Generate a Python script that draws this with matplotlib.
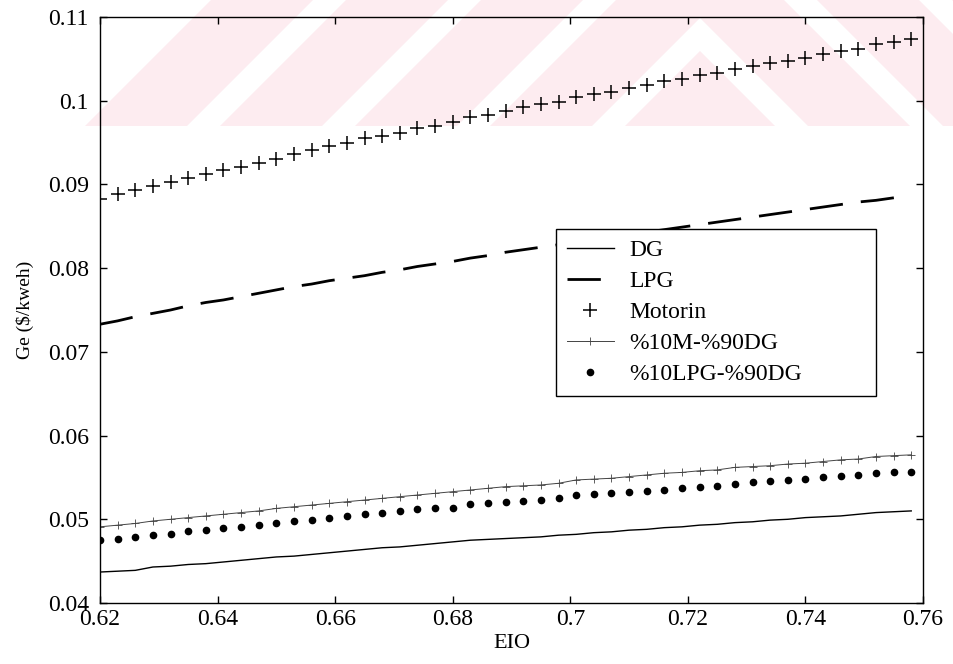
import numpy as np
import matplotlib
matplotlib.use('Agg')
import matplotlib.pyplot as plt
from matplotlib.patches import Polygon, Rectangle
from matplotlib.ticker import FormatStrFormatter

# EIO values: 0.62 .. 0.758 step 0.003 (47 points)
eio = [0.620, 0.623, 0.626, 0.629, 0.632, 0.635, 0.638, 0.641, 0.644, 0.647,
       0.650, 0.653, 0.656, 0.659, 0.662, 0.665, 0.668, 0.671, 0.674, 0.677,
       0.680, 0.683, 0.686, 0.689, 0.692, 0.695, 0.698, 0.701, 0.704, 0.707,
       0.710, 0.713, 0.716, 0.719, 0.722, 0.725, 0.728, 0.731, 0.734, 0.737,
       0.740, 0.743, 0.746, 0.749, 0.752, 0.755, 0.758]

dg = [0.0437, 0.0438, 0.0439, 0.0443, 0.0444, 0.0446, 0.0447, 0.0449, 0.0451, 0.0453,
      0.0455, 0.0456, 0.0458, 0.0460, 0.0462, 0.0464, 0.0466, 0.0467, 0.0469, 0.0471,
      0.0473, 0.0475, 0.0476, 0.0477, 0.0478, 0.0479, 0.0481, 0.0482, 0.0484, 0.0485,
      0.0487, 0.0488, 0.0490, 0.0491, 0.0493, 0.0494, 0.0496, 0.0497, 0.0499, 0.0500,
      0.0502, 0.0503, 0.0504, 0.0506, 0.0508, 0.0509, 0.0510]

lpg = [0.0733, 0.0737, 0.0742, 0.0746, 0.0750, 0.0755, 0.0759, 0.0762, 0.0766, 0.0770,
       0.0774, 0.0778, 0.0781, 0.0785, 0.0788, 0.0791, 0.0795, 0.0798, 0.0802, 0.0805,
       0.0808, 0.0812, 0.0815, 0.0819, 0.0822, 0.0825, 0.0828, 0.0831, 0.0834, 0.0837,
       0.0840, 0.0843, 0.0846, 0.0849, 0.0852, 0.0855, 0.0858, 0.0861, 0.0864, 0.0867,
       0.0870, 0.0873, 0.0876, 0.0879, 0.0881, 0.0884, 0.0887]

motorin = [0.0882, 0.0889, 0.0893, 0.0898, 0.0903, 0.0908, 0.0913, 0.0917, 0.0921, 0.0926,
           0.0930, 0.0936, 0.0941, 0.0946, 0.0950, 0.0955, 0.0958, 0.0962, 0.0967, 0.0970,
           0.0975, 0.0980, 0.0983, 0.0988, 0.0992, 0.0996, 0.0999, 0.1004, 0.1008, 0.1011,
           0.1015, 0.1019, 0.1023, 0.1026, 0.1031, 0.1033, 0.1038, 0.1041, 0.1045, 0.1048,
           0.1051, 0.1056, 0.1059, 0.1062, 0.1068, 0.1070, 0.1074]

m10_dg90 = [0.0491, 0.0493, 0.0495, 0.0498, 0.0500, 0.0502, 0.0504, 0.0506, 0.0508, 0.0510,
            0.0513, 0.0515, 0.0517, 0.0519, 0.0521, 0.0523, 0.0525, 0.0527, 0.0529, 0.0531,
            0.0533, 0.0535, 0.0537, 0.0539, 0.0540, 0.0541, 0.0543, 0.0547, 0.0548, 0.0549,
            0.0551, 0.0553, 0.0555, 0.0556, 0.0558, 0.0559, 0.0562, 0.0563, 0.0564, 0.0566,
            0.0567, 0.0569, 0.0571, 0.0572, 0.0575, 0.0576, 0.0577]

lpg10_dg90 = [0.0475, 0.0476, 0.0479, 0.0481, 0.0483, 0.0486, 0.0487, 0.0490, 0.0491, 0.0493,
              0.0496, 0.0498, 0.0499, 0.0502, 0.0504, 0.0506, 0.0507, 0.0510, 0.0512, 0.0513,
              0.0514, 0.0518, 0.0519, 0.0521, 0.0522, 0.0523, 0.0525, 0.0529, 0.0530, 0.0531,
              0.0533, 0.0534, 0.0535, 0.0537, 0.0538, 0.0540, 0.0542, 0.0544, 0.0546, 0.0547,
              0.0548, 0.0550, 0.0552, 0.0553, 0.0555, 0.0556, 0.0557]

labels = ['DG', 'LPG', 'Motorin', '%10M-%90DG', '%10LPG-%90DG']
xticks = [0.62, 0.64, 0.66, 0.68, 0.70, 0.72, 0.74, 0.76]
yticks = [0.04, 0.05, 0.06, 0.07, 0.08, 0.09, 0.10, 0.11]

plt.rcParams['font.family'] = ['Liberation Serif', 'DejaVu Serif']

W, H = 954, 664
fig = plt.figure(figsize=(W / 100, H / 100), dpi=100)

# faint pink scan watermark (chevron stripes, top band only), behind everything
clip = Rectangle((0, 1 - 126 / H), 1, 126 / H, transform=fig.transFigure)
for k in range(6):
    c0 = -489 + 135 * k
    c1 = c0 + 102
    xs = [-1200, 700, 2600]
    outer = [(x / W, 1 - (c0 + abs(x - 700)) / H) for x in xs]
    inner = [(x / W, 1 - (c1 + abs(x - 700)) / H) for x in xs[::-1]]
    p = Polygon(outer + inner, closed=True, transform=fig.transFigure,
                facecolor='#fdecf0', edgecolor='none', zorder=-5)
    p.set_clip_path(clip)
    fig.patches.append(p)

ax = fig.add_axes([100 / W, 1 - 603 / H, 823 / W, 586 / H])
ax.patch.set_alpha(0)

ax.plot(eio, dg, color='black', lw=1.0, label=labels[0])
ax.plot(eio, lpg, color='black', lw=2.0, dashes=(12, 6.5), label=labels[1])
ax.plot(eio, motorin, ls='none', marker='+', ms=10, mew=1.1, color='black', label=labels[2])
ax.plot(eio, m10_dg90, color='#444444', lw=0.7, marker='+', ms=6, mew=0.6, label=labels[3])
ax.plot(eio, lpg10_dg90, ls='none', marker='o', ms=4.5, color='black', label=labels[4])

ax.set_xlim(0.62, 0.76)
ax.set_ylim(0.04, 0.11)
ax.set_xticks(xticks)
ax.set_yticks(yticks)
ax.xaxis.set_major_formatter(FormatStrFormatter('%g'))
ax.yaxis.set_major_formatter(FormatStrFormatter('%g'))
ax.tick_params(direction='in', length=5, width=1, top=True, right=True, labelsize=17)
ax.tick_params(axis='y', pad=8)
ax.tick_params(axis='x', pad=4)
for s in ax.spines.values():
    s.set_linewidth(1.0)

ax.set_xlabel('EIO', fontsize=16, labelpad=3)
ax.set_ylabel(r'Ge (\$/kweh)', fontsize=14, labelpad=10)

leg = ax.legend(loc='upper left', bbox_to_anchor=(0.554, 0.360, 0.389, 0.278),
                mode='expand', borderaxespad=0,
                fontsize=17, numpoints=1, fancybox=False, framealpha=1,
                edgecolor='black', handlelength=2.0, handletextpad=0.65,
                labelspacing=0.4, borderpad=0.45)
leg.get_frame().set_linewidth(1.0)

fig.savefig('out.png', dpi=100)
